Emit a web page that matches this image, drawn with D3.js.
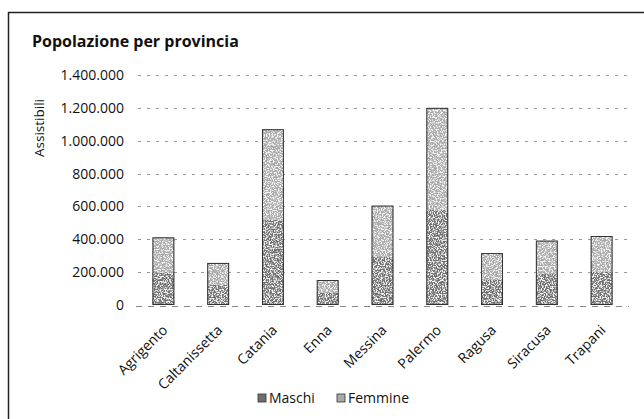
<!DOCTYPE html>
<html>
<head>
<meta charset="utf-8">
<script src="https://cdn.jsdelivr.net/npm/d3@7"></script>
<style>
  body { margin: 0; background: #fff; }
  text { font-family: "Open Sans", "Liberation Sans", Arial, sans-serif; }
</style>
</head>
<body>
<div id="chart"></div>
<script>
// DATA
const province = ["Agrigento", "Caltanissetta", "Catania", "Enna", "Messina", "Palermo", "Ragusa", "Siracusa", "Trapani"];
const maschi   = [199000, 124000, 519000, 74000, 292000, 580000, 156000, 192000, 203000];
const femmine  = [213000, 132000, 551000, 78000, 313000, 620000, 160000, 200000, 217000];
const yTicks   = [0, 200000, 400000, 600000, 800000, 1000000, 1200000, 1400000];
const serie    = ["Maschi", "Femmine"];

// CONSTANTS
const WIDTH = 644;
const HEIGHT = 419;
const PLOT = { left: 136, right: 629, top: 75, bottom: 305 };

const fmt = d => d3.format(",")(d).replace(/,/g, ".");

const svg = d3.select("#chart")
  .append("svg")
  .attr("width", WIDTH)
  .attr("height", HEIGHT);

// scan-like speckle on the bars
const defs = svg.append("defs");
const grain = defs.append("filter").attr("id", "grain")
  .attr("x", 0).attr("y", 0).attr("width", 1).attr("height", 1);
grain.append("feTurbulence")
  .attr("type", "fractalNoise").attr("baseFrequency", 0.75)
  .attr("numOctaves", 2).attr("seed", 7).attr("result", "noise");
grain.append("feColorMatrix")
  .attr("in", "noise").attr("type", "matrix")
  .attr("values", "0 0 0 0 1  0 0 0 0 1  0 0 0 0 1  5 0 0 0 -2.3")
  .attr("result", "spots");
grain.append("feComposite")
  .attr("in", "spots").attr("in2", "SourceGraphic").attr("operator", "in")
  .attr("result", "clipped");
const merge = grain.append("feMerge");
merge.append("feMergeNode").attr("in", "SourceGraphic");
merge.append("feMergeNode").attr("in", "clipped");

// chart border
svg.append("rect")
  .attr("x", 8.5).attr("y", 12.5)
  .attr("width", 640).attr("height", 420)
  .attr("fill", "none")
  .attr("stroke", "#222")
  .attr("stroke-width", 1.5);

const x = d3.scaleBand()
  .domain(province)
  .range([PLOT.left, PLOT.right])
  .paddingInner(0.6)
  .paddingOuter(0.3);

const y = d3.scaleLinear()
  .domain([0, 1400000])
  .range([PLOT.bottom, PLOT.top]);

// gridlines
svg.append("g")
  .selectAll("line")
  .data(yTicks.slice(1))
  .enter()
  .append("line")
  .attr("x1", PLOT.left + 2).attr("x2", PLOT.right)
  .attr("y1", d => Math.round(y(d)) + 0.5).attr("y2", d => Math.round(y(d)) + 0.5)
  .attr("stroke", "#999")
  .attr("stroke-width", 1)
  .attr("stroke-dasharray", "3,6");

// y axis labels
const yAxis = d3.axisLeft(y).tickValues(yTicks).tickFormat(fmt).tickSize(0).tickPadding(12);
svg.append("g")
  .attr("transform", `translate(${PLOT.left},0)`)
  .call(yAxis)
  .call(g => g.select(".domain").remove())
  .selectAll("text")
  .attr("font-size", 14)
  .attr("font-family", "Open Sans, Liberation Sans, Arial, sans-serif")
  .attr("fill", "#111");

// stacked bars
const rows = province.map((p, i) => ({ provincia: p, Maschi: maschi[i], Femmine: femmine[i] }));
const stacked = d3.stack().keys(serie)(rows);
const colors = { Maschi: "#6f6f6f", Femmine: "#a9a9a9" };

svg.append("g")
  .selectAll("g")
  .data(stacked)
  .enter()
  .append("g")
  .attr("fill", d => colors[d.key])
  .selectAll("rect")
  .data(d => d)
  .enter()
  .append("rect")
  .attr("x", d => x(d.data.provincia))
  .attr("width", x.bandwidth())
  .attr("y", d => y(d[1]))
  .attr("height", d => y(d[0]) - y(d[1]))
  .attr("filter", "url(#grain)");

// bar outlines
svg.append("g")
  .selectAll("rect")
  .data(rows)
  .enter()
  .append("rect")
  .attr("x", d => x(d.provincia) + 0.5)
  .attr("width", x.bandwidth() - 1)
  .attr("y", d => y(d.Maschi + d.Femmine) + 0.5)
  .attr("height", d => y(0) - y(d.Maschi + d.Femmine) - 1)
  .attr("fill", "none")
  .attr("stroke", "#333")
  .attr("stroke-width", 1);

// base line
svg.append("line")
  .attr("x1", PLOT.left).attr("x2", PLOT.right)
  .attr("y1", y(0) + 1.5).attr("y2", y(0) + 1.5)
  .attr("stroke", "#888")
  .attr("stroke-dasharray", "6,6");

// x labels
svg.append("g")
  .selectAll("text")
  .data(province)
  .enter()
  .append("text")
  .attr("transform", d => `translate(${x(d) + x.bandwidth() / 2 + 5},${y(0) + 26}) rotate(-45)`)
  .attr("text-anchor", "end")
  .attr("font-size", 14)
  .attr("fill", "#111")
  .text(d => d);

// axis title
svg.append("text")
  .attr("transform", "translate(44,128) rotate(-90)")
  .attr("text-anchor", "middle")
  .attr("font-size", 13.5)
  .attr("fill", "#111")
  .text("Assistibili");

// title
svg.append("text")
  .attr("x", 32).attr("y", 47)
  .attr("font-size", 16)
  .attr("font-weight", "bold")
  .attr("font-family", "Liberation Sans, Arial, sans-serif")
  .attr("fill", "#111")
  .text("Popolazione per provincia");

// legend
const legendX = [258, 337];
const legend = svg.append("g")
  .selectAll("g")
  .data(serie)
  .enter()
  .append("g")
  .attr("transform", (d, i) => `translate(${legendX[i]},394)`);

legend.append("rect")
  .attr("width", 8).attr("height", 8)
  .attr("fill", d => colors[d])
  .attr("stroke", "#333")
  .attr("stroke-width", 0.8);

legend.append("text")
  .attr("x", 11).attr("y", 9)
  .attr("font-size", 14)
  .attr("fill", "#111")
  .text(d => d);
</script>
</body>
</html>
